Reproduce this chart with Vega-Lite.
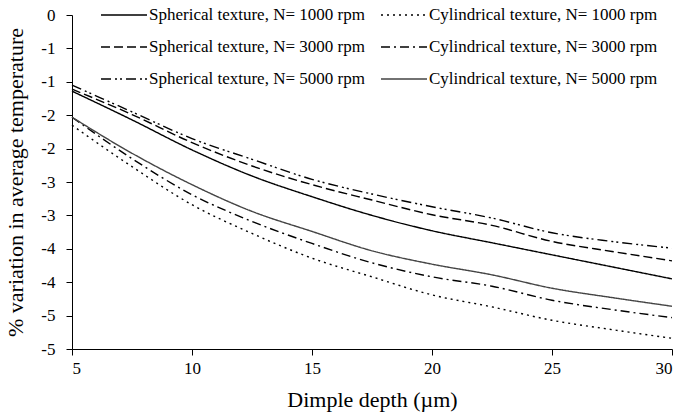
{
  "$schema": "https://vega.github.io/schema/vega-lite/v6.json",
  "width": 600,
  "height": 334,
  "autosize": "none",
  "padding": {"left": 72, "top": 15, "right": 12, "bottom": 66},
  "background": "white",
  "config": {
    "view": {"stroke": null},
    "font": "Liberation Serif"
  },
  "data": {
    "values": [
      {"depth": 5, "pct": -1.14, "series": "Spherical texture, N= 1000 rpm"},
      {"depth": 7.5, "pct": -1.57, "series": "Spherical texture, N= 1000 rpm"},
      {"depth": 10, "pct": -2.02, "series": "Spherical texture, N= 1000 rpm"},
      {"depth": 12.5, "pct": -2.41, "series": "Spherical texture, N= 1000 rpm"},
      {"depth": 15, "pct": -2.72, "series": "Spherical texture, N= 1000 rpm"},
      {"depth": 17.5, "pct": -3.0, "series": "Spherical texture, N= 1000 rpm"},
      {"depth": 20, "pct": -3.23, "series": "Spherical texture, N= 1000 rpm"},
      {"depth": 22.5, "pct": -3.41, "series": "Spherical texture, N= 1000 rpm"},
      {"depth": 25, "pct": -3.59, "series": "Spherical texture, N= 1000 rpm"},
      {"depth": 27.5, "pct": -3.77, "series": "Spherical texture, N= 1000 rpm"},
      {"depth": 30, "pct": -3.95, "series": "Spherical texture, N= 1000 rpm"},

      {"depth": 5, "pct": -1.65, "series": "Cylindrical texture, N= 1000 rpm"},
      {"depth": 7.5, "pct": -2.27, "series": "Cylindrical texture, N= 1000 rpm"},
      {"depth": 10, "pct": -2.84, "series": "Cylindrical texture, N= 1000 rpm"},
      {"depth": 12.5, "pct": -3.27, "series": "Cylindrical texture, N= 1000 rpm"},
      {"depth": 15, "pct": -3.64, "series": "Cylindrical texture, N= 1000 rpm"},
      {"depth": 17.5, "pct": -3.92, "series": "Cylindrical texture, N= 1000 rpm"},
      {"depth": 20, "pct": -4.19, "series": "Cylindrical texture, N= 1000 rpm"},
      {"depth": 22.5, "pct": -4.37, "series": "Cylindrical texture, N= 1000 rpm"},
      {"depth": 25, "pct": -4.57, "series": "Cylindrical texture, N= 1000 rpm"},
      {"depth": 27.5, "pct": -4.71, "series": "Cylindrical texture, N= 1000 rpm"},
      {"depth": 30, "pct": -4.84, "series": "Cylindrical texture, N= 1000 rpm"},

      {"depth": 5, "pct": -1.11, "series": "Spherical texture, N= 3000 rpm"},
      {"depth": 7.5, "pct": -1.49, "series": "Spherical texture, N= 3000 rpm"},
      {"depth": 10, "pct": -1.91, "series": "Spherical texture, N= 3000 rpm"},
      {"depth": 12.5, "pct": -2.26, "series": "Spherical texture, N= 3000 rpm"},
      {"depth": 15, "pct": -2.54, "series": "Spherical texture, N= 3000 rpm"},
      {"depth": 17.5, "pct": -2.77, "series": "Spherical texture, N= 3000 rpm"},
      {"depth": 20, "pct": -2.99, "series": "Spherical texture, N= 3000 rpm"},
      {"depth": 22.5, "pct": -3.15, "series": "Spherical texture, N= 3000 rpm"},
      {"depth": 25, "pct": -3.39, "series": "Spherical texture, N= 3000 rpm"},
      {"depth": 27.5, "pct": -3.54, "series": "Spherical texture, N= 3000 rpm"},
      {"depth": 30, "pct": -3.68, "series": "Spherical texture, N= 3000 rpm"},

      {"depth": 5, "pct": -1.53, "series": "Cylindrical texture, N= 3000 rpm"},
      {"depth": 7.5, "pct": -2.15, "series": "Cylindrical texture, N= 3000 rpm"},
      {"depth": 10, "pct": -2.69, "series": "Cylindrical texture, N= 3000 rpm"},
      {"depth": 12.5, "pct": -3.09, "series": "Cylindrical texture, N= 3000 rpm"},
      {"depth": 15, "pct": -3.42, "series": "Cylindrical texture, N= 3000 rpm"},
      {"depth": 17.5, "pct": -3.71, "series": "Cylindrical texture, N= 3000 rpm"},
      {"depth": 20, "pct": -3.92, "series": "Cylindrical texture, N= 3000 rpm"},
      {"depth": 22.5, "pct": -4.06, "series": "Cylindrical texture, N= 3000 rpm"},
      {"depth": 25, "pct": -4.27, "series": "Cylindrical texture, N= 3000 rpm"},
      {"depth": 27.5, "pct": -4.41, "series": "Cylindrical texture, N= 3000 rpm"},
      {"depth": 30, "pct": -4.53, "series": "Cylindrical texture, N= 3000 rpm"},

      {"depth": 5, "pct": -1.05, "series": "Spherical texture, N= 5000 rpm"},
      {"depth": 7.5, "pct": -1.45, "series": "Spherical texture, N= 5000 rpm"},
      {"depth": 10, "pct": -1.85, "series": "Spherical texture, N= 5000 rpm"},
      {"depth": 12.5, "pct": -2.16, "series": "Spherical texture, N= 5000 rpm"},
      {"depth": 15, "pct": -2.46, "series": "Spherical texture, N= 5000 rpm"},
      {"depth": 17.5, "pct": -2.68, "series": "Spherical texture, N= 5000 rpm"},
      {"depth": 20, "pct": -2.87, "series": "Spherical texture, N= 5000 rpm"},
      {"depth": 22.5, "pct": -3.04, "series": "Spherical texture, N= 5000 rpm"},
      {"depth": 25, "pct": -3.26, "series": "Spherical texture, N= 5000 rpm"},
      {"depth": 27.5, "pct": -3.39, "series": "Spherical texture, N= 5000 rpm"},
      {"depth": 30, "pct": -3.49, "series": "Spherical texture, N= 5000 rpm"},

      {"depth": 5, "pct": -1.53, "series": "Cylindrical texture, N= 5000 rpm"},
      {"depth": 7.5, "pct": -2.07, "series": "Cylindrical texture, N= 5000 rpm"},
      {"depth": 10, "pct": -2.54, "series": "Cylindrical texture, N= 5000 rpm"},
      {"depth": 12.5, "pct": -2.94, "series": "Cylindrical texture, N= 5000 rpm"},
      {"depth": 15, "pct": -3.24, "series": "Cylindrical texture, N= 5000 rpm"},
      {"depth": 17.5, "pct": -3.53, "series": "Cylindrical texture, N= 5000 rpm"},
      {"depth": 20, "pct": -3.73, "series": "Cylindrical texture, N= 5000 rpm"},
      {"depth": 22.5, "pct": -3.89, "series": "Cylindrical texture, N= 5000 rpm"},
      {"depth": 25, "pct": -4.09, "series": "Cylindrical texture, N= 5000 rpm"},
      {"depth": 27.5, "pct": -4.23, "series": "Cylindrical texture, N= 5000 rpm"},
      {"depth": 30, "pct": -4.36, "series": "Cylindrical texture, N= 5000 rpm"}
    ]
  },
  "mark": {"type": "line", "interpolate": "monotone"},
  "encoding": {
    "x": {
      "field": "depth",
      "type": "quantitative",
      "title": "Dimple depth (µm)",
      "scale": {"domain": [5, 30], "nice": false},
      "axis": {
        "values": [5, 10, 15, 20, 25, 30],
        "grid": false,
        "domainColor": "black",
        "tickColor": "black",
        "tickSize": 6,
        "labelFont": "Liberation Serif",
        "labelFontSize": 17,
        "labelColor": "black",
        "labelPadding": 5,
        "titleFont": "Liberation Serif",
        "titleFontSize": 22,
        "titleFontWeight": "normal",
        "titleColor": "black",
        "titlePadding": 13
      }
    },
    "y": {
      "field": "pct",
      "type": "quantitative",
      "title": "% variation in average temperature",
      "scale": {"domain": [-5, 0], "nice": false, "zero": false},
      "axis": {
        "values": [0, -0.5, -1, -1.5, -2, -2.5, -3, -3.5, -4, -4.5, -5],
        "labelExpr": "datum.value == 0 ? '0' : '-' + ceil(abs(datum.value))",
        "grid": false,
        "domainColor": "black",
        "tickColor": "black",
        "tickSize": 6,
        "labelFont": "Liberation Serif",
        "labelFontSize": 17,
        "labelColor": "black",
        "labelPadding": 11,
        "titleFont": "Liberation Serif",
        "titleFontSize": 22,
        "titleFontWeight": "normal",
        "titleColor": "black",
        "titlePadding": 13
      }
    },
    "strokeDash": {
      "field": "series",
      "type": "nominal",
      "scale": {
        "domain": [
          "Spherical texture, N= 1000 rpm", "Spherical texture, N= 3000 rpm", "Spherical texture, N= 5000 rpm",
          "Cylindrical texture, N= 1000 rpm", "Cylindrical texture, N= 3000 rpm", "Cylindrical texture, N= 5000 rpm"
        ],
        "range": [[1, 0], [9, 4], [10, 4, 2, 3, 2, 4], [2, 4], [9, 4, 2, 4], [1, 0]]
      },
      "legend": {
        "title": null, "orient": "none", "legendX": 28, "legendY": -24,
        "columns": 2, "columnPadding": 13, "rowPadding": -5.5,
        "symbolType": "stroke", "symbolSize": 2116, "labelOffset": 1, "labelLimit": 0,
        "labelFont": "Liberation Serif", "labelFontSize": 17, "labelColor": "black"
      }
    },
    "strokeWidth": {
      "field": "series",
      "type": "nominal",
      "scale": {
        "domain": [
          "Spherical texture, N= 1000 rpm", "Spherical texture, N= 3000 rpm", "Spherical texture, N= 5000 rpm",
          "Cylindrical texture, N= 1000 rpm", "Cylindrical texture, N= 3000 rpm", "Cylindrical texture, N= 5000 rpm"
        ],
        "range": [1.4, 1.4, 1.4, 1.6, 1.4, 0.8]
      },
      "legend": {
        "title": null, "orient": "none", "legendX": 28, "legendY": -24,
        "columns": 2, "columnPadding": 13, "rowPadding": -5.5,
        "symbolType": "stroke", "symbolSize": 2116, "labelOffset": 1, "labelLimit": 0,
        "labelFont": "Liberation Serif", "labelFontSize": 17, "labelColor": "black"
      }
    },
    "color": {
      "field": "series",
      "type": "nominal",
      "scale": {
        "domain": [
          "Spherical texture, N= 1000 rpm", "Spherical texture, N= 3000 rpm", "Spherical texture, N= 5000 rpm",
          "Cylindrical texture, N= 1000 rpm", "Cylindrical texture, N= 3000 rpm", "Cylindrical texture, N= 5000 rpm"
        ],
        "range": ["#000000", "#000000", "#000000", "#000000", "#000000", "#444444"]
      },
      "legend": {
        "title": null, "orient": "none", "legendX": 28, "legendY": -24,
        "columns": 2, "columnPadding": 13, "rowPadding": -5.5,
        "symbolType": "stroke", "symbolSize": 2116, "labelOffset": 1, "labelLimit": 0,
        "labelFont": "Liberation Serif", "labelFontSize": 17, "labelColor": "black"
      }
    }
  }
}
